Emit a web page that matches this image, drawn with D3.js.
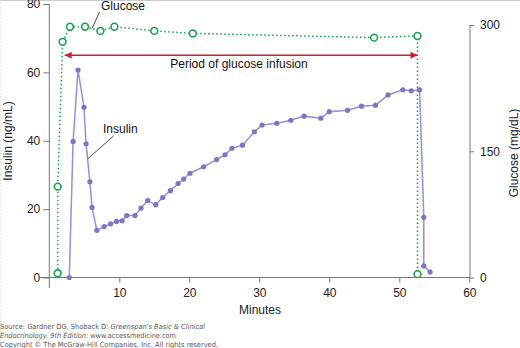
<!DOCTYPE html>
<html><head><meta charset="utf-8">
<script src="https://cdn.jsdelivr.net/npm/d3@7"></script>
<style>
html,body{margin:0;padding:0;background:#fff;}
svg{display:block;font-family:"Liberation Sans",Arial,Helvetica,sans-serif;}
</style></head>
<body>
<svg id="chart" width="520" height="348"></svg>
<script>
// ---- data ----
const insulinMinutes = [2.85,3.4,4.1,4.95,5.25,5.8,6.1,6.8,7.85,8.75,9.6,10.4,11.05,12.25,13.1,14.05,15.2,16.2,17.3,18.4,19.2,20.1,22.05,23.9,25.1,26.1,27.6,29.3,30.4,32.5,34.5,36.4,38.8,40.0,42.6,44.6,46.6,48.4,50.5,51.7,52.9,53.5,53.5,54.4];
const insulinValues  = [0,39.8,60.7,49.8,39.1,28,20.5,13.8,14.9,15.7,16.4,16.6,18.1,18.1,20.3,22.5,21.3,23.4,25.4,27.5,28.8,30.5,32.4,34.5,35.9,37.8,38.7,42.6,44.6,45.1,46.0,47.2,46.6,48.5,48.9,50.1,50.4,53.4,54.9,54.6,54.9,17.6,3.4,1.6];
const glucoseMinutes = [1.2,1.2,1.9,2.95,5.1,7.3,9.3,15,20.5,46.4,52.6,52.6];
const glucoseValues  = [5,108,280,298,298,293,298,293,290,285,287,4];
const infusionPeriod = [2.2,52.6];   // minutes
const infusionLevel = 65;            // on insulin scale
const xTicks = [10,20,30,40,50,60];
const insulinTicks = [0,20,40,60,80];
const glucoseTicks = [0,150,300];

// ---- layout ----
const svg = d3.select("#chart");
const x = d3.scaleLinear().domain([0,60]).range([49.3,469.3]);
const yI = d3.scaleLinear().domain([0,80]).range([277.5,4]);
const yG = d3.scaleLinear().domain([0,300]).range([277.5,25]);
const axisCol = "#777";

// frame edges
svg.append("line").attr("x1",0).attr("x2",520).attr("y1",0.5).attr("y2",0.5).attr("stroke","#c9cdc9");
svg.append("line").attr("x1",0.5).attr("x2",0.5).attr("y1",0).attr("y2",348).attr("stroke","#dcdcdc").attr("stroke-dasharray","1,2");

// axes
const gx = svg.append("g").attr("transform","translate(0,277.5)")
  .call(d3.axisBottom(x).tickValues(xTicks).tickSize(5).tickPadding(6));
gx.select(".domain").remove();
svg.append("line").attr("x1",40).attr("x2",470).attr("y1",277.5).attr("y2",277.5).attr("stroke",axisCol);

const gl = svg.append("g").attr("transform","translate(49.3,0)")
  .call(d3.axisLeft(yI).tickValues(insulinTicks).tickSize(6).tickPadding(3));
gl.select(".domain").remove();
svg.append("line").attr("x1",49.3).attr("x2",49.3).attr("y1",4).attr("y2",288).attr("stroke",axisCol);

const gr = svg.append("g").attr("transform","translate(470,0)")
  .call(d3.axisRight(yG).tickValues(glucoseTicks).tickSize(4).tickPadding(6));
gr.select(".domain").remove();
svg.append("line").attr("x1",470).attr("x2",470).attr("y1",25).attr("y2",277.5).attr("stroke",axisCol);

[gx,gl,gr].forEach(g=>{
  g.selectAll(".tick line").attr("stroke",axisCol);
  g.selectAll(".tick text").attr("fill","#222").style("font-size","12px").style("font-family","Liberation Sans, Arial, sans-serif");
});

// axis titles
svg.append("text").attr("x",260).attr("y",314).attr("text-anchor","middle").attr("fill","#222").style("font-size","12px").text("Minutes");
svg.append("text").attr("transform","translate(12,141) rotate(-90)").attr("text-anchor","middle").attr("fill","#222").style("font-size","12px").text("Insulin (ng/mL)");
svg.append("text").attr("transform","translate(518,153) rotate(-90)").attr("text-anchor","middle").attr("fill","#222").style("font-size","12px").text("Glucose (mg/dL)");

// glucose series
const gData = glucoseMinutes.map((m,i)=>[m,glucoseValues[i]]);
const green = "#19a04b";
svg.append("path").datum(gData)
  .attr("d", d3.line().x(d=>x(d[0])).y(d=>yG(d[1])))
  .attr("fill","none").attr("stroke",green).attr("stroke-width",1.5).attr("stroke-dasharray","1.5,2.5");

// infusion arrow
const red = "#cc2030";
const defs = svg.append("defs");
defs.append("marker").attr("id","ah").attr("viewBox","0 0 10 10").attr("refX",10).attr("refY",5)
  .attr("markerWidth",9).attr("markerHeight",7).attr("markerUnits","userSpaceOnUse").attr("orient","auto-start-reverse")
  .append("path").attr("d","M0,0L10,5L0,10z").attr("fill",red);
svg.append("line")
  .attr("x1",x(infusionPeriod[0])).attr("x2",x(infusionPeriod[1]))
  .attr("y1",yI(infusionLevel)).attr("y2",yI(infusionLevel))
  .attr("stroke",red).attr("stroke-width",1.5)
  .attr("marker-start","url(#ah)").attr("marker-end","url(#ah)");
svg.append("text").attr("x",239).attr("y",68).attr("text-anchor","middle").attr("fill","#111").style("font-size","12px").text("Period of glucose infusion");

// insulin series
const iData = insulinMinutes.map((m,i)=>[m,insulinValues[i]]);
const lineCol = "#9492d6", dotCol = "#7a78c2";
svg.append("path").datum(iData)
  .attr("d", d3.line().x(d=>x(d[0])).y(d=>yI(d[1])))
  .attr("fill","none").attr("stroke",lineCol).attr("stroke-width",1.5);
svg.selectAll("circle.ins").data(iData).enter().append("circle").attr("class","ins")
  .attr("cx",d=>x(d[0])).attr("cy",d=>yI(d[1])).attr("r",2.6).attr("fill",dotCol);

// glucose markers
svg.selectAll("circle.glu").data(gData).enter().append("circle").attr("class","glu")
  .attr("cx",d=>x(d[0])).attr("cy",d=>yG(d[1])).attr("r",3.4)
  .attr("fill","#fff").attr("stroke",green).attr("stroke-width",1.6);

// series labels with leaders
svg.append("text").attr("x",101).attr("y",10).attr("fill","#111").style("font-size","12px").text("Glucose");
svg.append("line").attr("x1",99.5).attr("y1",12).attr("x2",92).attr("y2",28.5).attr("stroke","#333").attr("stroke-width",0.9);
svg.append("text").attr("x",103).attr("y",133).attr("fill","#111").style("font-size","12px").text("Insulin");
svg.append("line").attr("x1",113.5).attr("y1",136).attr("x2",87.5).attr("y2",159).attr("stroke","#333").attr("stroke-width",0.9);

// source note
const src = svg.append("g").attr("fill","#555").style("font-family","DejaVu Sans, Verdana, sans-serif").style("font-size","7.1px");
const t1 = src.append("text").attr("x",0).attr("y",329).attr("textLength",205).attr("lengthAdjust","spacingAndGlyphs");
t1.append("tspan").text("Source: Gardner DG, Shoback D: ");
t1.append("tspan").style("font-style","italic").text("Greenspan's Basic & Clinical");
const t2 = src.append("text").attr("x",0).attr("y",337.5).attr("textLength",176).attr("lengthAdjust","spacingAndGlyphs");
t2.append("tspan").style("font-style","italic").text("Endocrinology, 9th Edition");
t2.append("tspan").text(": www.accessmedicine.com");
src.append("text").attr("x",0).attr("y",346.5).attr("textLength",218).attr("lengthAdjust","spacingAndGlyphs")
  .text("Copyright \u00A9 The McGraw-Hill Companies, Inc. All rights reserved.");
</script>
</body></html>
